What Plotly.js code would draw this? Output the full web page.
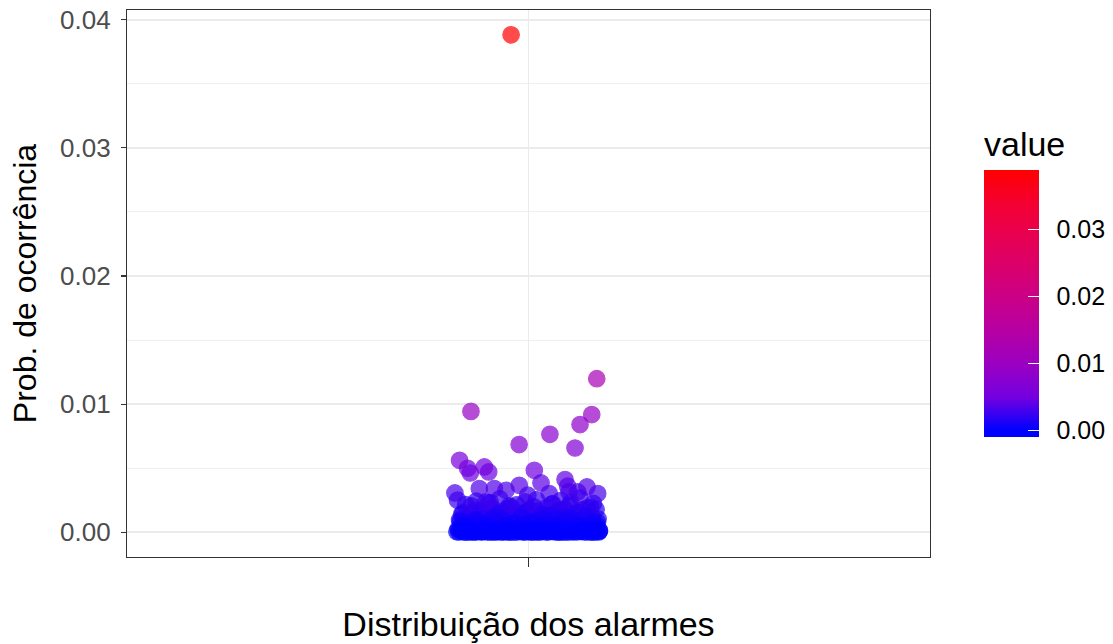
<!DOCTYPE html>
<html>
<head>
<meta charset="utf-8">
<script src="https://cdn.plot.ly/plotly-3.0.1.min.js"></script>
<style>html,body{margin:0;padding:0;background:#fff;}#chart{width:1113px;height:644px;}</style>
</head>
<body>
<div id="chart"></div>
<script>
// ---- data ----
const categoryLabels = [""];
// horizontal jitter offsets (as drawn by geom_jitter) and values
const outlierJitter = [-0.026,0.102,-0.086,0.0945,0.077,0.032,-0.014,0.0695,-0.103,-0.091,-0.087,-0.066,-0.0595,0.0087,0.0187,0.0546,0.0586,-0.0138,0.0874,0.1034,-0.110,-0.106,-0.0735,-0.051,-0.0336,-0.001,0.031,0.0735,0.0605];
const outlierValues = [0.03883,0.01198,0.00943,0.00918,0.00840,0.00764,0.00684,0.00657,0.00561,0.00499,0.00462,0.00509,0.00470,0.00483,0.00384,0.00411,0.00359,0.00366,0.00353,0.00302,0.00306,0.00250,0.00341,0.00341,0.00327,0.00289,0.00302,0.00314,0.00314];

const midJitter = [-0.103,-0.090,-0.076,-0.062,-0.049,-0.035,-0.022,-0.009,0.004,0.017,0.030,0.043,0.056,0.069,0.082,0.095,0.104,
  -0.098,-0.081,-0.069,-0.055,-0.040,-0.026,-0.013,0.001,0.013,0.027,0.041,0.054,0.068,0.080,0.093,
  -0.094,-0.078,-0.060,-0.043,-0.029,-0.005,0.012,0.035,0.048,0.063,0.077,0.097];
const midValues = [0.00095,0.00112,0.00088,0.00124,0.00101,0.00117,0.00092,0.00130,0.00106,0.00121,0.00098,0.00115,0.00127,0.00090,0.00109,0.00119,0.00103,
  0.00152,0.00171,0.00143,0.00186,0.00160,0.00197,0.00148,0.00177,0.00165,0.00190,0.00155,0.00182,0.00146,0.00174,0.00194,
  0.00215,0.00242,0.00228,0.00261,0.00205,0.00236,0.00253,0.00219,0.00247,0.00231,0.00266,0.00224];

const upperDenseJitter = [-0.100,-0.085,-0.071,-0.057,-0.046,-0.031,-0.018,-0.003,0.008,0.022,0.036,0.047,0.061,0.074,0.088,0.101,-0.064,0.032,
  -0.102,-0.091,-0.079,-0.066,-0.053,-0.037,-0.024,-0.011,0.003,0.015,0.028,0.039,0.051,0.066,0.079,0.090,0.103,-0.045,0.022,0.058,-0.085,0.086];
const upperDenseValues = [0.00138,0.00205,0.00162,0.00229,0.00141,0.00184,0.00213,0.00156,0.00198,0.00135,0.00221,0.00169,0.00207,0.00150,0.00189,0.00176,0.00236,0.00128,
  0.00083,0.00059,0.00097,0.00071,0.00105,0.00088,0.00062,0.00114,0.00079,0.00093,0.00067,0.00108,0.00085,0.00101,0.00057,0.00090,0.00076,0.00118,0.00099,0.00110,0.00074,0.00122];

const lowJitter = [-0.104,-0.096,-0.089,-0.083,-0.077,-0.070,-0.064,-0.057,-0.051,-0.044,-0.038,-0.032,-0.025,-0.019,-0.012,-0.006,0.001,0.007,0.014,0.020,0.027,0.033,0.040,0.046,0.052,0.059,0.065,0.072,0.078,0.085,0.091,0.098,0.105,
  -0.101,-0.093,-0.080,-0.067,-0.054,-0.041,-0.028,-0.015,-0.002,0.011,0.024,0.037,0.050,0.063,0.076,0.089,0.102,
  -0.099,-0.086,-0.073,-0.060,-0.047,-0.034,-0.021,-0.008,0.005,0.018,0.031,0.044,0.057,0.070,0.083,0.096,0.106];
const lowValues = [0.00002,0.00001,0.00004,0.00000,0.00003,0.00001,0.00005,0.00002,0.00000,0.00003,0.00001,0.00004,0.00002,0.00000,0.00006,0.00001,0.00003,0.00002,0.00000,0.00004,0.00001,0.00005,0.00002,0.00003,0.00000,0.00001,0.00004,0.00002,0.00006,0.00001,0.00003,0.00000,0.00002,
  0.00021,0.00034,0.00018,0.00027,0.00041,0.00015,0.00030,0.00024,0.00038,0.00019,0.00033,0.00026,0.00044,0.00017,0.00029,0.00036,
  0.00052,0.00061,0.00047,0.00068,0.00055,0.00073,0.00049,0.00064,0.00058,0.00071,0.00046,0.00066,0.00053,0.00078,0.00060,0.00050,0.00069];

const baseJitter = [-0.105,-0.095,-0.087,-0.074,-0.065,-0.058,-0.046,-0.036,-0.024,-0.010,0.002,0.009,0.021,0.029,0.042,0.053,0.061,0.073,0.081,0.092,0.100,0.106,-0.017,0.047,-0.071,
  -0.107,-0.100,-0.092,-0.086,-0.079,-0.073,-0.061,-0.055,-0.048,-0.042,-0.035,-0.029,-0.016,-0.009,-0.003,0.004,0.012,0.018,0.030,0.038,0.045,0.054,0.067,0.080,0.093,0.100,0.107];
const baseValues = [0.00012,0.00025,0.00039,0.00016,0.00047,0.00022,0.00031,0.00011,0.00043,0.00028,0.00014,0.00049,0.00023,0.00035,0.00013,0.00040,0.00020,0.00032,0.00045,0.00018,0.00026,0.00037,0.00010,0.00029,0.00042,
  0.00007,0.00003,0.00009,0.00001,0.00006,0.00004,0.00008,0.00002,0.00010,0.00005,0.00003,0.00007,0.00001,0.00009,0.00004,0.00006,0.00002,0.00008,0.00005,0.00003,0.00010,0.00001,0.00007,0.00004,0.00006,0.00002,0.00008];

const yTickVals = [0, 0.01, 0.02, 0.03, 0.04];
const yTickText = ["0.00", "0.01", "0.02", "0.03", "0.04"];
const cbTickVals = [0, 0.01, 0.02, 0.03];
const cbTickText = ["0.00", "0.01", "0.02", "0.03"];

// ---- build ----
const jit = outlierJitter.concat(midJitter, upperDenseJitter, lowJitter, baseJitter);
const vals = outlierValues.concat(midValues, upperDenseValues, lowValues, baseValues);
const xs = jit.map(d => 1 + d);

const dataMax = Math.max(...vals);
const cmin = -0.00104, cmax = dataMax;
// blue -> red gradient interpolated in Lab (as ggplot2 scale_colour_gradient)
const labStops = [[0,'rgb(0,0,255)'],[0.125,'rgb(115,0,224)'],[0.25,'rgb(154,0,194)'],[0.375,'rgb(181,0,165)'],[0.5,'rgb(201,0,137)'],[0.625,'rgb(218,0,108)'],[0.75,'rgb(232,0,80)'],[0.875,'rgb(244,0,49)'],[1,'rgb(255,0,0)']];
const cs = [[0,'rgb(0,0,255)']].concat(labStops.map(s => [(s[0]*dataMax - cmin)/(cmax - cmin), s[1]]));

const pad = '\u00A0\u2009';
const trace = {
  type: 'scatter', mode: 'markers',
  x: xs, y: vals,
  hoverinfo: 'y',
  marker: {
    size: 16.5, opacity: 0.7,
    color: vals, colorscale: cs, cmin: cmin, cmax: cmax,
    line: {color: vals, colorscale: cs, cmin: cmin, cmax: cmax, width: 1.2},
    showscale: true,
    colorbar: {
      thickness: 55, thicknessmode: 'pixels',
      len: 310, lenmode: 'pixels',
      x: (984-127)/803, xanchor: 'left', xpad: 0,
      y: (557-(127+437)/2)/547, yanchor: 'middle', ypad: 0,
      outlinewidth: 0,
      ticks: 'inside', ticklen: 11, tickcolor: '#ffffff', tickwidth: 1,
      tickvals: cbTickVals, ticktext: cbTickText.map(t => pad + t),
      tickfont: {family: 'Liberation Sans, Arial, sans-serif', size: 25, color: '#000'},
      title: {text: 'value', side: 'top', font: {family: 'Liberation Sans, Arial, sans-serif', size: 34, color: '#000'}}
    }
  }
};

const layout = {
  width: 1113, height: 644,
  margin: {l: 127, r: 183, t: 10, b: 87, pad: 0, autoexpand: false},
  paper_bgcolor: '#fff', plot_bgcolor: '#fff',
  showlegend: false,
  font: {family: 'Liberation Sans, Arial, sans-serif'},
  xaxis: {
    range: [0.4, 1.6], tickvals: [1], ticktext: categoryLabels,
    ticks: 'outside', ticklen: 9, tickcolor: '#333', tickwidth: 1.1,
    showgrid: true, gridcolor: '#EBEBEB', gridwidth: 1.6, zeroline: false,
    showline: true, mirror: true, linecolor: '#333', linewidth: 1.1,
    tickfont: {size: 26, color: '#4D4D4D'},
    automargin: false,
    title: {text: 'Distribuição dos alarmes', font: {size: 34, color: '#000'}, standoff: 40}
  },
  yaxis: {
    range: [-0.00194, 0.04077], tickvals: yTickVals, ticktext: yTickText,
    ticks: 'outside', ticklen: 5, tickcolor: '#333', tickwidth: 1.1,
    showgrid: true, gridcolor: '#EBEBEB', gridwidth: 1.6, zeroline: false,
    minor: {dtick: 0.005, tick0: 0, showgrid: true, gridcolor: '#EBEBEB', gridwidth: 0.8, ticks: ''},
    showline: true, mirror: true, linecolor: '#333', linewidth: 1.1,
    tickfont: {size: 26, color: '#4D4D4D'},
    ticklabelstandoff: 5,
    automargin: false,
    title: {text: 'Prob. de ocorrência', font: {size: 32, color: '#000'}, standoff: 13}
  }
};

Plotly.newPlot('chart', [trace], layout, {displayModeBar: false, staticPlot: true});
</script>
</body>
</html>
